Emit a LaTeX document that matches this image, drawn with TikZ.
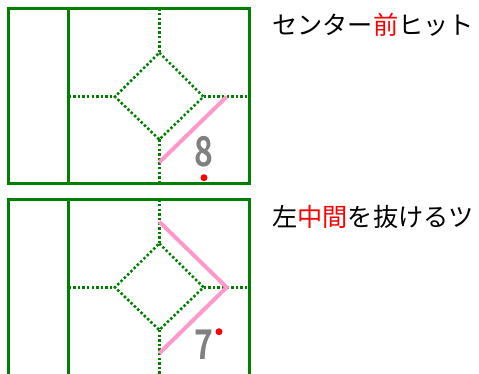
\documentclass[tikz,border=0pt]{standalone}
\usepackage{fontspec}
\newfontfamily\cjk{Noto Sans CJK JP}
\newfontfamily\cjkbold{Noto Sans CJK JP Bold}
\definecolor{fieldgreen}{RGB}{0,128,0}
\definecolor{hitpink}{RGB}{255,153,204}
\definecolor{numgray}{RGB}{128,128,128}
\tikzset{
  wall/.style={draw=fieldgreen, line width=3pt},
  dotline/.style={draw=fieldgreen, line width=2.6pt, dash pattern=on 2.4pt off 2.2pt},
  track/.style={draw=hitpink, line width=4pt},
  numlabel/.style={inner sep=0pt, text=numgray, font=\cjkbold\fontsize{41}{41}\selectfont, xscale=0.78},
  caption/.style={inner sep=0pt, anchor=west, font=\cjk\fontsize{25.2}{26}\selectfont},
  balldot/.style={fill=red, draw=none, circle, minimum size=7pt, inner sep=0pt}
}
\begin{document}
\begin{tikzpicture}[x=1pt,y=-1pt]
\useasboundingbox (0,0) rectangle (479,374);
% ---------- top panel ----------
\coordinate (t-nw) at (8.5,8.5);
\coordinate (t-se) at (249,183.5);
\coordinate (t-vt) at (68.5,8.5);
\coordinate (t-vb) at (68.5,183.5);
\coordinate (t-top) at (159.3,52.7);
\coordinate (t-left) at (115,96.7);
\coordinate (t-right) at (203.5,96.7);
\coordinate (t-bot) at (159.3,139.5);
\coordinate (t-ptop) at (159.3,8.5);
\coordinate (t-pbot) at (159.3,183.5);
\coordinate (t-lmid) at (68.5,96.7);
\coordinate (t-rmid) at (249,96.7);
\coordinate (t-h1) at (159.3,162.3);
\coordinate (t-h2) at (226.7,96.7);
\draw[dotline] (t-top) -- (t-right) -- (t-bot) -- (t-left) -- cycle;
\draw[dotline] (t-ptop) -- (t-top);
\draw[dotline] (t-bot) -- (t-pbot);
\draw[dotline] (t-lmid) -- (t-left);
\draw[dotline] (t-right) -- (t-rmid);
\draw[wall] (t-nw) rectangle (t-se);
\draw[wall] (t-vt) -- (t-vb);
\draw[track] (t-h1) -- (t-h2);
\node[numlabel] (n8) at (204,151.5) {8};
\node[balldot] (b8) at (204,177.7) {};
\node[caption] (cap1) at (272,25) {センター\textcolor{red}{前}ヒット};
% ---------- bottom panel ----------
\coordinate (b-nw) at (8.5,199.5);
\coordinate (b-ne) at (249,199.5);
\coordinate (b-sw) at (8.5,380);
\coordinate (b-se) at (249,380);
\coordinate (b-vt) at (68.5,199.5);
\coordinate (b-vb) at (68.5,380);
\coordinate (b-top) at (159.3,243.5);
\coordinate (b-left) at (115,287.3);
\coordinate (b-right) at (203.5,287.3);
\coordinate (b-bot) at (159.3,330);
\coordinate (b-ptop) at (159.3,199.5);
\coordinate (b-pbot) at (159.3,376);
\coordinate (b-lmid) at (68.5,287.3);
\coordinate (b-rmid) at (249,287.3);
\coordinate (b-h1) at (159.3,221.7);
\coordinate (b-h2) at (226.7,287.3);
\coordinate (b-h3) at (159.3,353.3);
\draw[dotline] (b-top) -- (b-right) -- (b-bot) -- (b-left) -- cycle;
\draw[dotline] (b-ptop) -- (b-top);
\draw[dotline] (b-bot) -- (b-pbot);
\draw[dotline] (b-lmid) -- (b-left);
\draw[dotline] (b-right) -- (b-rmid);
\draw[wall] (b-sw) -- (b-nw) -- (b-ne) -- (b-se);
\draw[wall] (b-vt) -- (b-vb);
\draw[track] (b-h1) -- (b-h2) -- (b-h3);
\node[numlabel] (n7) at (204,345) {7};
\node[balldot] (b7) at (219,331.7) {};
\node[caption] (cap2) at (272,216.7) {左\textcolor{red}{中間}を抜けるツ};
\end{tikzpicture}
\end{document}
